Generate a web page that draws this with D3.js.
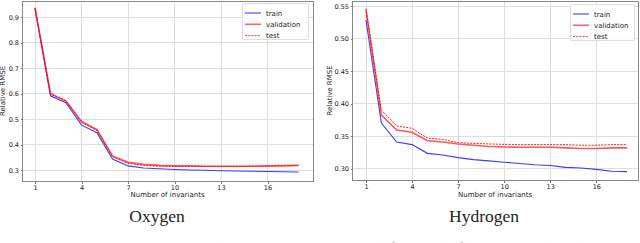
<!DOCTYPE html>
<html>
<meta charset="utf-8">
<style>
body { margin: 0; background: #fff; }
.axis path, .axis line { stroke: #777; shape-rendering: crispEdges; }
.axis text { font-family: 'DejaVu Sans'; font-size: 6.5px; fill: #222; }
.grid line { stroke: #dedede; stroke-width: 1; shape-rendering: crispEdges; }
.lab { font-family: 'DejaVu Sans'; font-size: 7px; fill: #222; }
.title { font-family: 'Liberation Serif', serif; font-size: 17.5px; fill: #222; }
.caption { font-family: 'Liberation Serif', serif; font-size: 15px; fill: #aaa; }
.leg text { font-family: 'DejaVu Sans'; font-size: 7px; fill: #222; }
</style>
<body>
<script src="https://cdn.jsdelivr.net/npm/d3@7"></script>
<script>
var w = 640, h = 243;

var invariants = d3.range(1, 19);
var xTicks = [1, 4, 7, 10, 13, 16];

// oxygen
var oTrain = [0.934, 0.591, 0.564, 0.476, 0.446, 0.343, 0.316, 0.308, 0.305, 0.302, 0.300, 0.299, 0.297, 0.296, 0.295, 0.294, 0.293, 0.292];
var oVal   = [0.936, 0.600, 0.570, 0.490, 0.458, 0.355, 0.330, 0.322, 0.318, 0.316, 0.316, 0.315, 0.315, 0.315, 0.315, 0.316, 0.317, 0.318];
var oTest  = [0.935, 0.597, 0.572, 0.487, 0.455, 0.352, 0.326, 0.318, 0.315, 0.314, 0.314, 0.314, 0.314, 0.314, 0.315, 0.315, 0.316, 0.318];
var oTicks = [0.3, 0.4, 0.5, 0.6, 0.7, 0.8, 0.9];

// hydrogen
var hTrain = [0.5285, 0.370, 0.341, 0.337, 0.3236, 0.321, 0.317, 0.314, 0.312, 0.310, 0.308, 0.306, 0.305, 0.302, 0.301, 0.299, 0.296, 0.2955];
var hVal   = [0.544, 0.3825, 0.3594, 0.356, 0.343, 0.341, 0.338, 0.336, 0.334, 0.3333, 0.333, 0.333, 0.333, 0.332, 0.331, 0.331, 0.332, 0.332];
var hTest  = [0.546, 0.390, 0.3656, 0.362, 0.347, 0.345, 0.340, 0.339, 0.338, 0.3374, 0.337, 0.337, 0.337, 0.337, 0.336, 0.336, 0.337, 0.337];
var hTicks = [0.30, 0.35, 0.40, 0.45, 0.50, 0.55];

var seriesNames = ["train", "validation", "test"];

var svg = d3.select("body").append("svg")
    .attr("width", w)
    .attr("height", h);

function panel(opt) {
  var x = d3.scaleLinear().domain([1, 18]).range([opt.x1, opt.x18]);
  var y = d3.scaleLinear().domain(opt.ydom).range(opt.yrange);
  var g = svg.append("g");

  // grid
  g.append("g").attr("class", "grid").selectAll("line")
    .data(xTicks).enter().append("line")
    .attr("x1", x).attr("x2", x)
    .attr("y1", opt.top).attr("y2", opt.bottom);
  g.append("g").attr("class", "grid").selectAll("line")
    .data(opt.yTicks).enter().append("line")
    .attr("x1", opt.left).attr("x2", opt.right)
    .attr("y1", y).attr("y2", y);

  var line = d3.line()
    .x(function(d, i) { return x(invariants[i]); })
    .y(function(d) { return y(d); });

  g.append("path").datum(opt.train)
    .attr("d", line).attr("fill", "none")
    .attr("stroke", "#3b3bff").attr("stroke-width", 1.1);
  g.append("path").datum(opt.val)
    .attr("d", line).attr("fill", "none")
    .attr("stroke", "#ff2020").attr("stroke-opacity", 0.75).attr("stroke-width", 1.6);
  g.append("path").datum(opt.test)
    .attr("d", line).attr("fill", "none")
    .attr("stroke", "#ff0000").attr("stroke-width", 0.9)
    .attr("stroke-dasharray", "2,1.2");

  // frame
  g.append("rect")
    .attr("x", opt.left + 0.5).attr("y", opt.top + 0.5)
    .attr("width", opt.right - opt.left).attr("height", opt.bottom - opt.top)
    .attr("fill", "none").attr("stroke", "#888");

  // axes
  g.append("g").attr("class", "axis")
    .attr("transform", "translate(0," + (opt.bottom + 0.5) + ")")
    .call(d3.axisBottom(x).tickValues(xTicks).tickSize(2).tickPadding(1.5))
    .select(".domain").remove();
  g.append("g").attr("class", "axis")
    .attr("transform", "translate(" + (opt.left + 0.5) + ",0)")
    .call(d3.axisLeft(y).tickValues(opt.yTicks).tickFormat(d3.format(opt.fmt)).tickSize(2).tickPadding(1.5))
    .select(".domain").remove();

  // labels
  g.append("text").attr("class", "lab")
    .attr("x", (opt.left + opt.right) / 2).attr("y", 197)
    .attr("text-anchor", "middle")
    .text("Number of invariants");
  g.append("text").attr("class", "lab")
    .attr("transform", "translate(" + opt.ylabX + "," + ((opt.top + opt.bottom) / 2) + ") rotate(-90)")
    .attr("text-anchor", "middle")
    .text("Relative RMSE");
  g.append("text").attr("class", "title")
    .attr("x", opt.titleX).attr("y", 222)
    .attr("text-anchor", "middle")
    .text(opt.title);

  // legend
  var lg = g.append("g").attr("class", "leg")
    .attr("transform", "translate(" + opt.legX + "," + opt.legY + ")");
  lg.append("rect")
    .attr("x", 0.5).attr("y", 0.5).attr("width", opt.legW).attr("height", 36)
    .attr("rx", 1.5)
    .attr("fill", "#fff").attr("fill-opacity", 0.85)
    .attr("stroke", "#ddd");
  var items = lg.selectAll(".item").data(seriesNames).enter().append("g")
    .attr("transform", function(d, i) { return "translate(0," + (10 + i * 11.3) + ")"; });
  items.append("line")
    .attr("x1", 3).attr("x2", 19)
    .attr("stroke", function(d) { return d == "train" ? "#3b3bff" : "#ff2020"; })
    .attr("stroke-opacity", function(d) { return d == "validation" ? 0.7 : 1; })
    .attr("stroke-width", function(d) { return d == "validation" ? 1.6 : (d == "test" ? 0.9 : 1.1); })
    .attr("stroke-dasharray", function(d) { return d == "test" ? "2,1.2" : null; });
  items.append("text")
    .attr("x", 24).attr("y", 2.5)
    .text(function(d) { return d; });
}

panel({
  left: 22, right: 313, top: 1, bottom: 181,
  x1: 35, x18: 298.5,
  ydom: [0.3, 0.9], yrange: [170, 17],
  yTicks: oTicks, fmt: ".1f",
  train: oTrain, val: oVal, test: oTest,
  ylabX: 5, title: "Oxygen", titleX: 157,
  legX: 242, legY: 3, legW: 66
});

panel({
  left: 352, right: 638, top: 1, bottom: 180,
  x1: 366, x18: 627,
  ydom: [0.30, 0.55], yrange: [168.7, 6],
  yTicks: hTicks, fmt: ".2f",
  train: hTrain, val: hVal, test: hTest,
  ylabX: 332, title: "Hydrogen", titleX: 484,
  legX: 570, legY: 4, legW: 64
});

// caption, cut off at the bottom of the picture like in the source page
svg.append("text").attr("class", "caption")
  .attr("x", 320).attr("y", 253)
  .attr("text-anchor", "middle")
  .text("Figure 5: Relative RMSE (both oxygen and hydrogen) for train (left), validation (right)");
</script>
</body>
</html>
